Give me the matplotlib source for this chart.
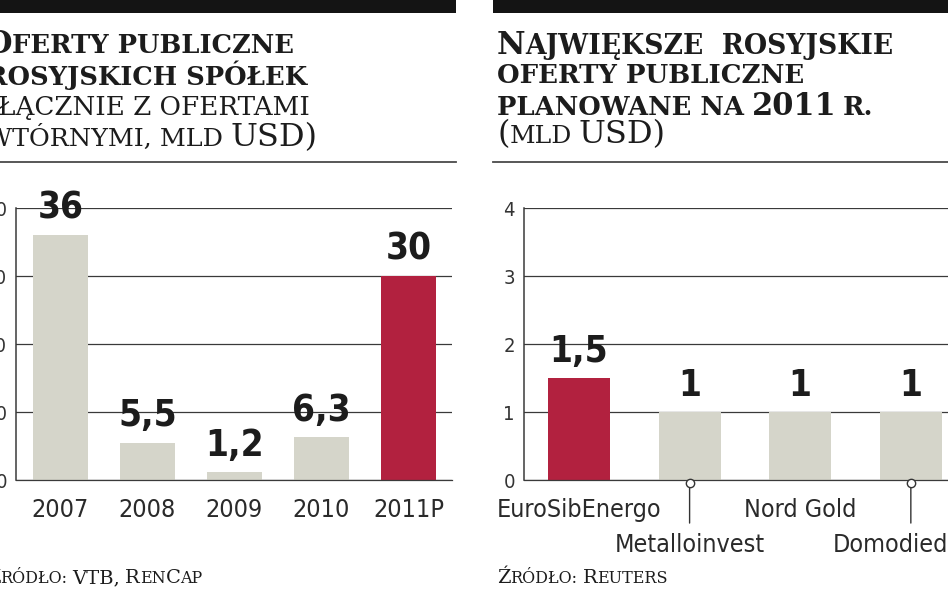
import matplotlib
matplotlib.use('Agg')
import matplotlib.pyplot as plt
from matplotlib import font_manager as fm
from matplotlib.patches import Rectangle
from matplotlib.lines import Line2D
from matplotlib.transforms import offset_copy

# 1. Dane: oferty publiczne rosyjskich spółek (mld USD)
lata = ['2007', '2008', '2009', '2010', '2011P']
oferty = [36, 5.5, 1.2, 6.3, 30]
oferty_etykiety = ['36', '5,5', '1,2', '6,3', '30']
oferty_ticks = [0, 10, 20, 30, 40]

# 2. Dane: największe oferty planowane na 2011 r. (mld USD)
spolki = ['EuroSibEnergo', 'Metalloinvest', 'Nord Gold', 'Domodiedovo']
planowane = [1.5, 1, 1, 1]
planowane_etykiety = ['1,5', '1', '1', '1']
planowane_ticks = [0, 1, 2, 3, 4]

W, H = 948, 593
SZARY = '#d5d5ca'
CZERWONY = '#b2213f'
CIEMNY = '#1c1c1c'
SIATKA = '#3a3a3a'
SERIF = ['DejaVu Serif']


def waski_font(bold):
    # szukamy zwężonego kroju (Narrow / Condensed)
    kolejnosc = ['Liberation Sans Narrow', 'DejaVu Sans', 'Roboto', 'Noto Sans', 'Open Sans', 'Lato', 'Inter']
    najlepszy = None
    for f in fm.fontManager.ttflist:
        plik = f.fname.lower()
        waski = ('narrow' in f.name.lower() or 'condensed' in plik or 'narrow' in plik
                 or f.stretch in ('condensed', 'semi-condensed', 'extra-condensed'))
        if not waski or f.style != 'normal':
            continue
        w = f.weight if isinstance(f.weight, int) else (700 if 'bold' in str(f.weight) else 400)
        if bold != (w >= 600) or 'light' in plik or 'semibold' in plik or 'black' in plik or 'medium' in plik:
            continue
        rodzina = next((k for k in kolejnosc if f.name.startswith(k)), None)
        ranga = kolejnosc.index(rodzina) if rodzina else 99
        if najlepszy is None or ranga < najlepszy[0]:
            najlepszy = (ranga, f.fname)
    if najlepszy:
        return fm.FontProperties(fname=najlepszy[1])
    return fm.FontProperties(family='Roboto', weight='bold' if bold else 'normal')


SANS = waski_font(False)
SANS_B = waski_font(True)


def fx(x):
    return x / W


def fy(y):
    return 1 - y / H


fig = plt.figure(figsize=(W / 100, H / 100), dpi=100)
renderer = fig.canvas.get_renderer()


def linia(x, y, czesci):
    # tekst składany z kawałków (imitacja kapitalików)
    for tekst, rozmiar, waga, odstep in czesci:
        t = fig.text(fx(x), fy(y), tekst, fontsize=rozmiar, fontweight=waga,
                     family=SERIF, va='baseline', ha='left', color=CIEMNY)
        x += t.get_window_extent(renderer).width + odstep


def wykres(ax, kategorie, wartosci, etykiety, ticks, szer, wyroznij, rzedy):
    x = list(range(len(kategorie)))
    kolory = [CZERWONY if i == wyroznij else SZARY for i in x]
    ax.bar(x, wartosci, width=szer, color=kolory, zorder=2)
    ax.set_ylim(ticks[0], ticks[-1])
    ax.set_yticks(ticks)
    ax.set_xticks([])
    ax.yaxis.grid(True, color=SIATKA, lw=0.9)
    ax.set_axisbelow(True)
    for s in ['top', 'right']:
        ax.spines[s].set_visible(False)
    ax.spines['left'].set_color(SIATKA)
    ax.spines['left'].set_linewidth(1.1)
    ax.spines['bottom'].set_color(SIATKA)
    ax.spines['bottom'].set_linewidth(0.9)
    ax.tick_params(axis='y', length=0, pad=6.5, labelcolor='#333333')
    for lab in ax.get_yticklabels():
        lab.set_fontproperties(SANS)
        lab.set_fontsize(14.5)
    for i in x:
        ax.annotate(etykiety[i], xy=(i, wartosci[i]), xytext=(0, 6), textcoords='offset points',
                    ha='center', va='bottom', fontproperties=SANS_B, fontsize=26.5,
                    color=CIEMNY, zorder=5)
        dy = -26.6 if rzedy[i] == 0 else -51.8
        ax.annotate(kategorie[i], xy=(i, 0), xytext=(0, dy), textcoords='offset points',
                    ha='center', va='baseline', fontproperties=SANS, fontsize=18,
                    color='#2a2a2a', annotation_clip=False)
        if rzedy[i] == 1:
            ax.annotate('', xy=(i, 0), xytext=(0, -31), textcoords='offset points',
                        arrowprops=dict(arrowstyle='-', color='#333333', lw=1,
                                        shrinkA=0, shrinkB=0),
                        annotation_clip=False)
            ax.plot([i], [0], marker='o', ms=6, mfc='white', mec='#333333', mew=1,
                    transform=offset_copy(ax.transData, fig=fig, y=-3, units='dots'),
                    clip_on=False, zorder=6)


# lewy wykres
ax1 = fig.add_axes([fx(16), fy(480), (452 - 16) / W, (480 - 208) / H])
wykres(ax1, lata, oferty, oferty_etykiety, oferty_ticks, 0.632, len(lata) - 1, [0] * len(lata))
ax1.set_xlim(-0.51, 4.5)

# prawy wykres
ax2 = fig.add_axes([fx(524), fy(480), (975 - 524) / W, (480 - 208) / H])
wykres(ax2, spolki, planowane, planowane_etykiety, planowane_ticks, 0.56, 0, [0, 1, 0, 1])
ax2.set_xlim(-0.497, 3.58)

# czarne paski u góry i linie pod tytułami
fig.add_artist(Rectangle((fx(-5), fy(13)), fx(461), 13 / H, transform=fig.transFigure,
                         color='#141414', lw=0))
fig.add_artist(Rectangle((fx(493), fy(13)), fx(470), 13 / H, transform=fig.transFigure,
                         color='#141414', lw=0))
fig.add_artist(Line2D([fx(-5), fx(456)], [fy(162), fy(162)], color='#4a4a4a', lw=1.3))
fig.add_artist(Line2D([fx(493), fx(960)], [fy(162), fy(162)], color='#4a4a4a', lw=1.3))

# tytuły
linia(-14, 53, [('O', 22, 'bold', 0), ('FERTY PUBLICZNE', 18.5, 'bold', 0)])
linia(-14, 85, [('ROSYJSKICH SPÓŁEK', 18.5, 'bold', 0)])
linia(-14, 115, [('(', 22, 'normal', 0), ('ŁĄCZNIE Z OFERTAMI', 18.8, 'normal', 0)])
linia(-14, 146, [('WTÓRNYMI, MLD', 18.3, 'normal', 7), ('USD)', 23, 'normal', 0)])

linia(497, 54, [('N', 22.5, 'bold', 0), ('AJWIĘKSZE  ROSYJSKIE', 19.2, 'bold', 0)])
linia(497, 83, [('OFERTY PUBLICZNE', 18.7, 'bold', 0)])
linia(497, 115, [('PLANOWANE NA', 18.5, 'bold', 8), ('2011', 22, 'bold', 6), ('R.', 18.5, 'bold', 0)])
linia(497, 143, [('(', 23, 'normal', 0), ('MLD', 18, 'normal', 7), ('USD)', 23, 'normal', 0)])

# źródła
linia(-13, 583, [('Ź', 14, 'normal', 0), ('RÓDŁO:', 11.5, 'normal', 5), ('VTB,', 14, 'normal', 5),
                 ('R', 14, 'normal', 0), ('EN', 11.5, 'normal', 0), ('C', 14, 'normal', 0),
                 ('AP', 11.5, 'normal', 0)])
linia(497, 583, [('Ź', 14, 'normal', 0), ('RÓDŁO:', 11.5, 'normal', 5),
                 ('R', 14, 'normal', 0), ('EUTERS', 11.5, 'normal', 0)])

fig.savefig('out.png', dpi=100)
